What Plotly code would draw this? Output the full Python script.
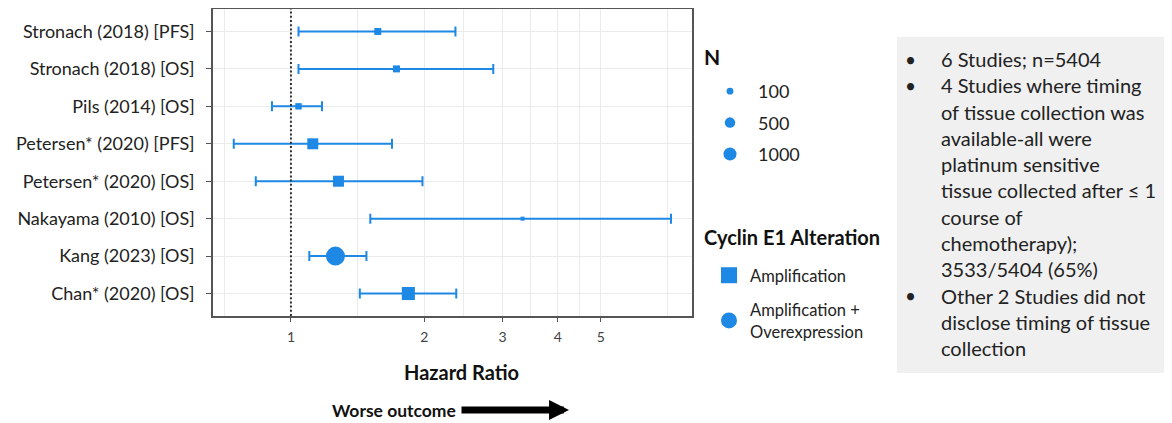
import numpy as np
import plotly.graph_objects as go

# ---------------- data ----------------
studies = [
    "Stronach (2018) [PFS]",
    "Stronach (2018) [OS]",
    "Pils (2014) [OS]",
    "Petersen* (2020) [PFS]",
    "Petersen* (2020) [OS]",
    "Nakayama (2010) [OS]",
    "Kang (2023) [OS]",
    "Chan* (2020) [OS]",
]
hazard_ratio = [1.57, 1.73, 1.04, 1.12, 1.28, 3.33, 1.26, 1.84]
ci_lower = [1.04, 1.04, 0.906, 0.743, 0.833, 1.51, 1.10, 1.43]
ci_upper = [2.35, 2.86, 1.175, 1.69, 1.98, 7.20, 1.48, 2.36]
n_patients = [180, 180, 130, 850, 850, 30, 2800, 1410]
alteration = [
    "Amplification", "Amplification", "Amplification", "Amplification",
    "Amplification", "Amplification", "Amplification + Overexpression",
    "Amplification",
]
alteration_levels = ["Amplification", "Amplification + Overexpression"]
alteration_labels = ["Amplification", "Amplification +<br>Overexpression"]
legend_n = [100, 500, 1000]
x_breaks = [0.5, 1, 2, 3, 4, 5, 10]
x_tick_labels = ["1", "2", "3", "4", "5"]
reference_hr = 1
summary_bullets = [
    ["6 Studies; n=5404"],
    ["4 Studies where timing", "of tissue collection was", "available-all were",
     "platinum sensitive", "tissue collected after \u2264 1", "course of",
     "chemotherapy);", "3533/5404 (65%)"],
    ["Other 2 Studies did not", "disclose timing of tissue", "collection"],
]

# ---------------- style ----------------
OFF = 8                      # page body margin of the browser
W, H = 1172 - OFF, 423 - OFF
BLUE = "#1E88E5"
FONT = "Lato"
GRID = "#ebebeb"
SYMBOLS = {"Amplification": "square", "Amplification + Overexpression": "circle"}
SHAPE_SCALE = {"square": 0.886, "circle": 1.0}
D_MIN, D_MAX = 4.5, 19.0
N_MIN, N_MAX = min(n_patients), max(n_patients)


def size_px(n, symbol="circle"):
    n = np.asarray(n, dtype=float)
    frac = np.sqrt(np.clip((n - N_MIN) / (N_MAX - N_MIN), 0, 1))
    return (D_MIN + (D_MAX - D_MIN) * frac) * SHAPE_SCALE[symbol]


def px_x(p):
    return min(1.0, max(0.0, (p - OFF) / W))


def px_y(p):
    return min(1.0, max(0.0, 1 - (p - OFF) / H))


fig = go.Figure()

hr = np.array(hazard_ratio)
lo = np.array(ci_lower)
hi = np.array(ci_upper)
npat = np.array(n_patients)
alt = np.array(alteration)
lab = np.array(studies)

for level in alteration_levels:
    m = alt == level
    sym = SYMBOLS[level]
    fig.add_trace(go.Scatter(
        x=hr[m], y=lab[m], mode="markers",
        marker=dict(symbol=sym, size=size_px(npat[m], sym), color=BLUE, opacity=1,
                    line=dict(width=0)),
        error_x=dict(type="data", symmetric=False, array=hi[m] - hr[m],
                     arrayminus=hr[m] - lo[m], color=BLUE, thickness=2, width=5),
        showlegend=False, hoverinfo="skip",
    ))

# size legend
for n in legend_n:
    fig.add_trace(go.Scatter(
        x=[None], y=[None], mode="markers", name=str(n),
        marker=dict(symbol="circle", size=float(size_px(n)), color=BLUE, opacity=1),
        legend="legend", legendgroup="n%d" % n, showlegend=True,
    ))
# shape legend
for level, text in zip(alteration_levels, alteration_labels):
    fig.add_trace(go.Scatter(
        x=[None], y=[None], mode="markers", name=text,
        marker=dict(symbol=SYMBOLS[level], size=16 if SYMBOLS[level] == "square" else 19,
                    color=BLUE, opacity=1),
        legend="legend2", legendgroup=level, showlegend=True,
    ))

minor_grid = [float(np.sqrt(a * b)) for a, b in zip(x_breaks[:-1], x_breaks[1:])]

fig.update_layout(
    width=W, height=H,
    margin=dict(l=0, r=0, t=0, b=0),
    paper_bgcolor="white", plot_bgcolor="white",
    font=dict(family=FONT, color="#222"),
    xaxis=dict(
        type="log", domain=[px_x(213), px_x(692)],
        range=[np.log10(0.667), np.log10(8.03)],
        tickvals=[1, 2, 3, 4, 5], ticktext=x_tick_labels,
        ticks="outside", ticklen=4, tickcolor="#555", tickwidth=1,
        ticklabelstandoff=3,
        tickfont=dict(size=14, color="#444"),
        showgrid=True, gridcolor=GRID, gridwidth=1,
        minor=dict(tickvals=minor_grid, showgrid=True, gridcolor=GRID, gridwidth=1, ticks=""),
        showline=True, linecolor="#555", linewidth=1.5, mirror=True, zeroline=False,
    ),
    yaxis=dict(
        type="category", categoryorder="array", categoryarray=studies,
        domain=[px_y(316), px_y(9)], range=[7.6, -0.6],
        ticks="outside", ticklen=5, tickcolor="#555", tickwidth=1,
        ticklabelstandoff=8,
        tickfont=dict(size=18, color="#222"),
        showgrid=True, gridcolor=GRID, gridwidth=1,
        showline=True, linecolor="#555", linewidth=1.5, mirror=True, zeroline=False,
    ),
    legend=dict(
        x=px_x(702), y=px_y(73), xanchor="left", yanchor="top",
        font=dict(size=18, color="#222"), itemwidth=46, tracegroupgap=5,
        bgcolor="rgba(0,0,0,0)",
    ),
    legend2=dict(
        x=px_x(708), y=px_y(258), xanchor="left", yanchor="top",
        font=dict(size=16.5, color="#222"), itemwidth=32, tracegroupgap=10,
        bgcolor="rgba(0,0,0,0)",
    ),
)

# legend titles
fig.add_annotation(text="<b>N</b>", xref="paper", yref="paper", x=px_x(702), y=px_y(57),
                   showarrow=False, xanchor="left", yanchor="middle",
                   font=dict(size=21, color="#111"))
fig.add_annotation(text="<b>Cyclin E1 Alteration</b>", xref="paper", yref="paper",
                   x=px_x(702), y=px_y(237), showarrow=False, xanchor="left",
                   yanchor="middle", font=dict(size=20, color="#111"))

# reference line at HR = 1
fig.add_shape(type="line", xref="x", yref="y domain", x0=reference_hr, x1=reference_hr,
              y0=0, y1=1, line=dict(color="#333", width=2, dash="2px,2.2px"), layer="above")

# axis title and direction arrow
fig.add_annotation(text="<b>Hazard Ratio</b>", xref="paper", yref="paper",
                   x=px_x(461), y=px_y(372), showarrow=False,
                   font=dict(size=20, color="#111"), xanchor="center", yanchor="middle")
fig.add_annotation(text="<b>Worse outcome</b>", xref="paper", yref="paper",
                   x=px_x(458), y=px_y(410), showarrow=False,
                   font=dict(size=17.5, color="#111"), xanchor="right", yanchor="middle")
fig.add_annotation(text="", xref="paper", yref="paper", axref="pixel", ayref="pixel",
                   x=px_x(569), y=px_y(410), ax=-109, ay=0,
                   showarrow=True, arrowhead=2, arrowsize=0.57, arrowwidth=7,
                   arrowcolor="black")

# summary box
fig.add_shape(type="rect", xref="paper", yref="paper",
              x0=px_x(897), x1=px_x(1166), y0=px_y(373), y1=px_y(37),
              fillcolor="#f0f0f0", line=dict(width=0), layer="below")
line_i = 0
for bullet in summary_bullets:
    for j, txt in enumerate(bullet):
        yy = px_y(59 + line_i * 26.3)
        if j == 0:
            fig.add_annotation(text="\u2022", xref="paper", yref="paper", x=px_x(910), y=yy,
                               showarrow=False, xanchor="center", yanchor="middle",
                               font=dict(size=19, color="#222"))
        fig.add_annotation(text=txt, xref="paper", yref="paper", x=px_x(939), y=yy,
                           showarrow=False, xanchor="left", yanchor="middle",
                           font=dict(size=20, color="#222"))
        line_i += 1

fig.write_html("out.html")
